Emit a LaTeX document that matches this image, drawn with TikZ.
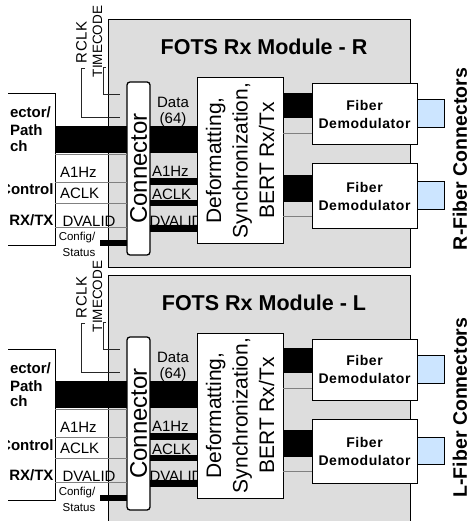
\documentclass[tikz,border=0pt]{standalone}
\usepackage{fontspec}
\setmainfont{Liberation Sans}
\definecolor{modgray}{RGB}{221,221,221}
\definecolor{lngray}{RGB}{128,128,128}
\definecolor{fcblue}{RGB}{204,229,255}
\begin{document}
\begin{tikzpicture}[x=1pt,y=-1pt,
  every node/.style={inner sep=0pt,outer sep=0pt},
  modbox/.style={draw=black,line width=1pt,fill=modgray},
  wbox/.style={draw=black,line width=1pt,fill=white},
  conbox/.style={draw=black,line width=1.3pt,fill=white,rounded corners=3pt},
  graylink/.style={draw=lngray,line width=0.8pt},
  siglink/.style={draw=black!85,line width=0.7pt},
  busbar/.style={draw=black,line width=#1},
  fcbox/.style={draw=black,line width=1pt,fill=fcblue},
  sig/.style={font=\fontsize{15}{18}\selectfont},
  bsig/.style={font=\bfseries\fontsize{15}{18}\selectfont},
  small/.style={font=\fontsize{11.5}{13}\selectfont},
  sidetitle/.style={rotate=90,font=\bfseries\fontsize{19.5}{24}\selectfont},
]
\useasboundingbox (0,0) rectangle (471,521);
\clip (0,0) rectangle (471,521);

\foreach \off/\mlt/\nm/\mh in {0/R/r/247,255/L/l/265}{
\begin{scope}[yshift=-\off pt]
  % module
  \node[modbox,minimum width=302pt,minimum height=\mh pt] (\nm mod) at (259,{20+\mh/2}) {};
  \node[font=\bfseries\fontsize{21.5}{26}\selectfont,anchor=base] (\nm title) at (264,55) {FOTS Rx Module - \mlt};
  % left (cut) box
  \begin{scope}
    \clip (8,0) rectangle (200,300);
    \node[wbox,minimum width=85pt,minimum height=151pt] (\nm left) at (12.5,169.5) {};
    \node[bsig,anchor=base west] (\nm lt1) at (10,118) {ector/};
    \node[bsig,anchor=base west] (\nm lt2) at (10,136) {Path};
    \node[bsig,anchor=base west] (\nm lt3) at (10,151.7) {ch};
    \node[bsig,anchor=base east] (\nm lt4) at (53.5,195) {Control};
    \node[bsig,anchor=base east] (\nm lt5) at (53.5,225.7) {RX/TX};
  \end{scope}
  % RCLK / TIMECODE
  \node[rotate=90,font=\fontsize{15}{18}\selectfont\addfontfeature{LetterSpace=4}] (\nm rclk) at (81.5,42.5) {RCLK};
  \node[rotate=90,font=\fontsize{13.5}{16}\selectfont] (\nm tcode) at (97.5,41.5) {TIMECODE};
  \coordinate (\nm rc1) at (85,68);
  \coordinate (\nm rc2) at (120,117);
  \coordinate (\nm tc1) at (106,67);
  \coordinate (\nm tc2) at (120,94);
  \draw[siglink] (\nm rc1) -- (81,68) |- (\nm rc2);
  \draw[siglink] (\nm tc1) -- (103,67) |- (\nm tc2);
  % left labels
  \node[sig,anchor=base west] (\nm la1) at (60,177.3) {A1Hz};
  \node[sig,anchor=base west] (\nm la2) at (60,198.3) {ACLK};
  \node[sig,anchor=base west] (\nm la3) at (62.5,226.2) {DVALID};
  \node[small,anchor=base] (\nm cfg) at (77,240.7) {Config/};
  \node[small,anchor=base] (\nm sts) at (79,256.7) {Status};
  % right labels
  \node[sig,anchor=base] (\nm data) at (173,107.3) {Data};
  \node[sig,anchor=base] (\nm dnum) at (173,123.3) {(64)};
  \node[sig,anchor=base west] (\nm ra1) at (152,176.7) {A1Hz};
  \node[sig,anchor=base west] (\nm ra2) at (152,199.3) {ACLK};
  \node[sig,anchor=base west] (\nm ra3) at (149.5,226.7) {DVALID};
  % blocks (rotated: north = left side, south = right side)
  \node[conbox,rotate=90,minimum width=173pt,minimum height=23pt,font=\fontsize{24}{28}\selectfont] (\nm conn) at (138.5,168.5) {Connector};
  \node[wbox,rotate=90,minimum width=165pt,minimum height=86pt,align=center,font=\fontsize{21}{26.5}\selectfont] (\nm def) at (240,160.5) {Deformatting,\\Synchronization,\\BERT Rx/Tx};
  \node[wbox,minimum width=105pt,minimum height=61pt,align=center,font=\bfseries\fontsize{14}{18}\selectfont\addfontfeature{LetterSpace=4}] (\nm fib1) at (364.5,114.5) {Fiber\\Demodulator};
  \node[wbox,minimum width=105pt,minimum height=64pt,align=center,font=\bfseries\fontsize{14}{18}\selectfont\addfontfeature{LetterSpace=4}] (\nm fib2) at (364.5,196) {Fiber\\Demodulator};
  \node[fcbox,minimum width=27pt,minimum height=28pt] (\nm fc1) at (430.5,114) {};
  \node[fcbox,minimum width=27pt,minimum height=27pt] (\nm fc2) at (430.5,195.5) {};
  % thin links left
  \foreach \yy in {154,182,203,227}{
    \draw[graylink] (\nm left.east |- 0,\yy) -- (\nm conn.north |- 0,\yy);
  }
  % data bus
  \draw[busbar=27pt] (\nm left.east |- 0,139.5) -- (\nm conn.north |- 0,139.5);
  \draw[busbar=27pt] (\nm conn.south |- 0,139.5) -- (\nm def.north |- 0,139.5);
  % config bar
  \coordinate (\nm cfgend) at (100,243);
  \draw[busbar=5.5pt] (\nm cfgend) -- (\nm conn.north |- \nm cfgend);
  % signal bars right of connector
  \draw[busbar=7pt] (\nm conn.south |- 0,181.5) -- (\nm def.north |- 0,181.5);
  \draw[busbar=6pt] (\nm conn.south |- 0,203) -- (\nm def.north |- 0,203);
  \draw[busbar=7pt] (\nm conn.south |- 0,228.5) -- (\nm def.north |- 0,228.5);
  % to fiber demodulators
  \draw[busbar=25pt] (\nm def.south |- 0,105.5) -- (\nm fib1.west |- 0,105.5);
  \draw[graylink] (\nm def.south |- 0,133) -- (\nm fib1.west |- 0,133);
  \draw[busbar=27pt] (\nm def.south |- 0,188.5) -- (\nm fib2.west |- 0,188.5);
  \draw[graylink] (\nm def.south |- 0,216) -- (\nm fib2.west |- 0,216);
\end{scope}
}
\node[sidetitle] (rfibcon) at (460,159) {R-Fiber Connectors};
\node[sidetitle] (lfibcon) at (460,407.5) {L-Fiber Connectors};
\end{tikzpicture}
\end{document}
